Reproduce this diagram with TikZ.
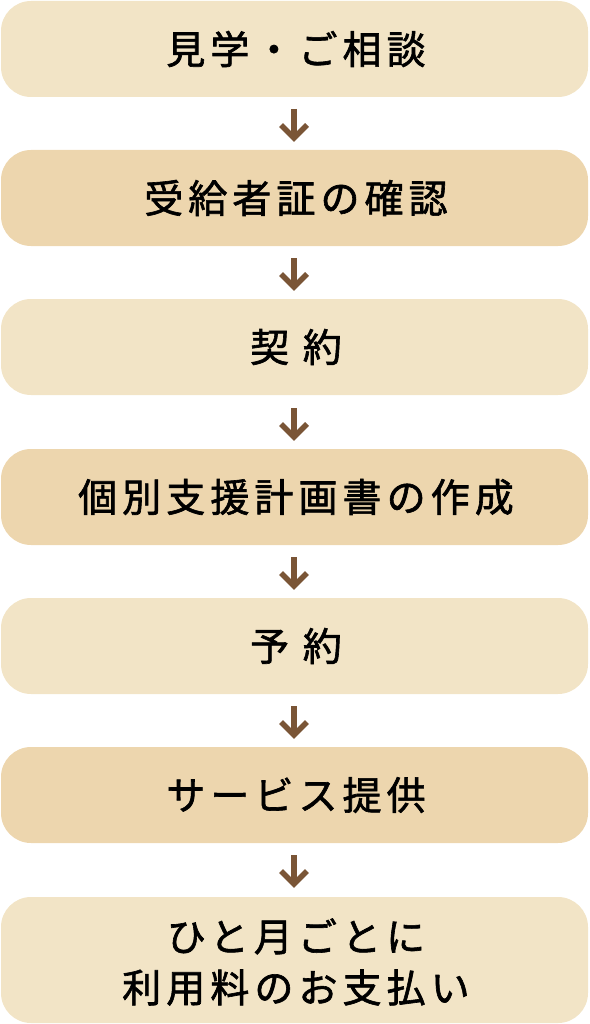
\documentclass[tikz,border=0pt]{standalone}
\usepackage{fontspec}
\newfontfamily\jpfont[LetterSpace=13,FakeBold=1.6]{Noto Sans CJK JP}
\definecolor{boxlight}{HTML}{F2E4C6}
\definecolor{boxdark}{HTML}{EDD6AE}
\definecolor{arrowbrown}{HTML}{7A5536}
\begin{document}
\begin{tikzpicture}[x=1pt,y=-1pt,
  stepbox/.style={rounded corners=30pt},
  lbl/.style={font=\jpfont\fontsize{39}{51}\selectfont, text=black, align=center, inner sep=0pt},
  arr/.style={draw=arrowbrown, line width=5.5pt}]
\useasboundingbox (0,0) rectangle (589,1024);
\fill[boxlight,stepbox] (1,1) rectangle (588,97);
\fill[boxdark,stepbox] (1,150) rectangle (588,246);
\fill[boxlight,stepbox] (1,299) rectangle (588,395);
\fill[boxdark,stepbox] (1,449) rectangle (588,545);
\fill[boxlight,stepbox] (1,598) rectangle (588,694);
\fill[boxdark,stepbox] (1,747) rectangle (588,843);
\fill[boxlight,stepbox] (1,897) rectangle (588,1023);
\node[lbl] (n1) at (296,49) {見学・ご相談};
\node[lbl] (n2) at (296,198) {受給者証の確認};
\node[lbl] (n3) at (296,347) {契 約};
\node[lbl] (n4) at (296,497) {個別支援計画書の作成};
\node[lbl] (n5) at (296,646) {予 約};
\node[lbl] (n6) at (296,795) {サービス提供};
\node[lbl] (n7) at (296,962) {ひと月ごとに\\利用料のお支払い};
\foreach \t in {109,258,408,557,706,855}{
  \coordinate (s) at (294,\t);
  \coordinate (e) at (294,\t+29);
  \draw[arr] (s) -- (e);
  \draw[arr, line join=miter] ([xshift=-13pt,yshift=13pt]e) -- (e) -- ([xshift=13pt,yshift=13pt]e);
}
\end{tikzpicture}
\end{document}
